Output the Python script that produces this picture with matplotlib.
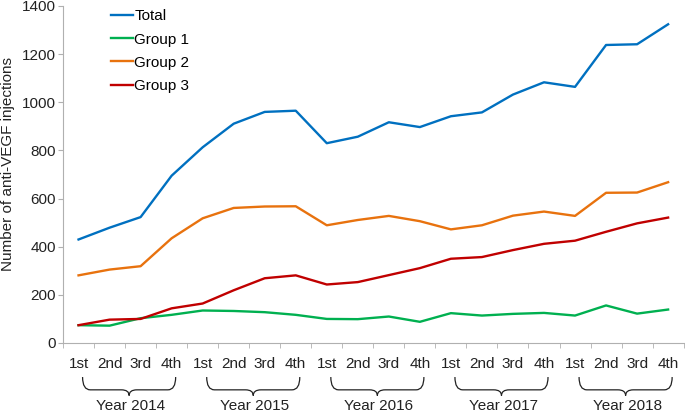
import matplotlib.pyplot as plt
import matplotlib.patches as mpatches
from matplotlib.path import Path
from matplotlib.transforms import blended_transform_factory

plt.rcParams["font.family"] = ["Liberation Sans", "DejaVu Sans"]

# quarterly data 2014-2018
quarters = ["1st", "2nd", "3rd", "4th"] * 5
years = ["Year 2014", "Year 2015", "Year 2016", "Year 2017", "Year 2018"]

total = [430, 479, 523, 695, 813, 911, 960, 965, 830, 857,
         917, 897, 942, 958, 1032, 1083, 1064, 1238, 1241, 1324]
group1 = [74, 72, 103, 117, 135, 133, 128, 117, 100, 99,
          110, 88, 124, 114, 121, 125, 114, 156, 122, 139]
group2 = [281, 305, 319, 435, 518, 561, 567, 568, 489, 511,
          528, 506, 472, 489, 529, 546, 528, 624, 625, 668]
group3 = [74, 97, 100, 144, 164, 219, 269, 281, 243, 253,
          282, 311, 350, 357, 386, 412, 425, 462, 497, 521]

fig = plt.figure(figsize=(6.85, 4.13), dpi=100)
ax = fig.add_axes([0.092, 0.1695, 0.906, 0.816])

fs = 11
x = list(range(len(quarters)))
lw = 1.7
ax.plot(x, total, color="#0070C0", lw=lw, label="Total")
ax.plot(x, group1, color="#00B050", lw=lw, label="Group 1")
ax.plot(x, group2, color="#E8720E", lw=lw, label="Group 2")
ax.plot(x, group3, color="#C00000", lw=lw, label="Group 3")

ax.set_xlim(-0.5, len(quarters) - 0.5)
ax.set_ylim(0, 1400)
ax.set_yticks(range(0, 1401, 200))

# category labels at centres, tick marks at boundaries
ax.set_xticks(x)
ax.set_xticklabels(quarters, fontsize=fs, color="#222222")
ax.set_xticks([i - 0.5 for i in range(len(quarters) + 1)], minor=True)
ax.tick_params(axis="x", which="major", length=0, pad=10)
ax.tick_params(axis="x", which="minor", length=3.6, color="#B0B0B0")
ax.tick_params(axis="y", length=3.6, color="#B0B0B0", labelsize=fs,
               labelcolor="#222222", pad=1.5)

for s in ["top", "right"]:
    ax.spines[s].set_visible(False)
for s in ["left", "bottom"]:
    ax.spines[s].set_color("#B0B0B0")

ax.set_ylabel("Number of anti-VEGF injections", fontsize=fs, color="#222222")
ax.yaxis.set_label_coords(-0.078, 0.53)

# braces under each year
tr = blended_transform_factory(ax.transData, ax.transAxes)
top, mid, tip, r = -0.101, -0.139, -0.156, 0.25
for k, yr in enumerate(years):
    a = 4 * k + 0.13
    b = 4 * k + 3.13
    m = (a + b) / 2
    verts = [(a, top), (a, mid), (a + r, mid),
             (m - r, mid), (m, mid), (m, tip),
             (m, mid), (m + r, mid),
             (b - r, mid), (b, mid), (b, top)]
    codes = [Path.MOVETO, Path.CURVE3, Path.CURVE3,
             Path.LINETO, Path.CURVE3, Path.CURVE3,
             Path.CURVE3, Path.CURVE3,
             Path.LINETO, Path.CURVE3, Path.CURVE3]
    ax.add_patch(mpatches.PathPatch(Path(verts, codes), fill=False,
                                    lw=0.9, color="#222222",
                                    transform=tr, clip_on=False))
    ax.text(m + 0.05, -0.186, yr, transform=tr, ha="center", va="center",
            fontsize=fs, color="#222222")

ax.legend(loc="upper left", bbox_to_anchor=(0.077, 0.99), frameon=False,
          fontsize=fs, handlelength=1.45, handletextpad=0.08,
          labelspacing=0.6, borderpad=0, borderaxespad=0)

fig.savefig("out.png", dpi=100)
